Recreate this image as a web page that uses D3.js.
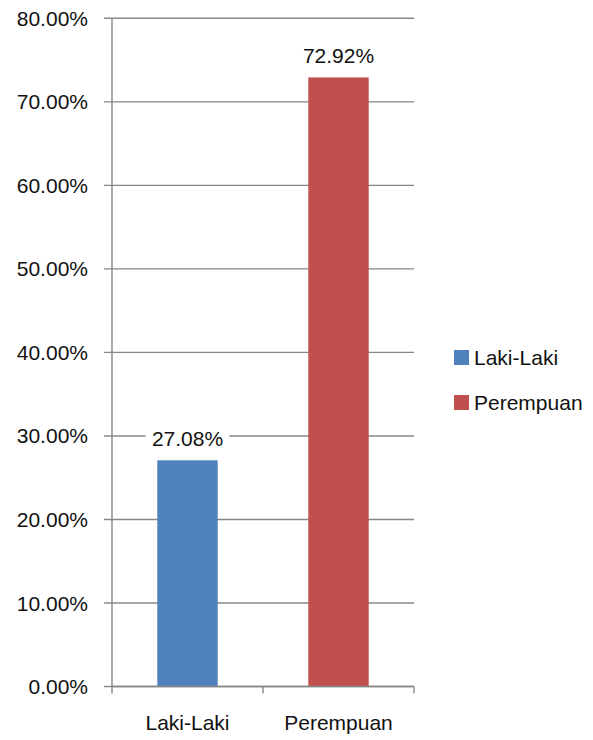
<!DOCTYPE html>
<html>
<head>
<meta charset="utf-8">
<script src="https://cdn.jsdelivr.net/npm/d3@7/dist/d3.min.js"></script>
<style>
  html, body { margin: 0; padding: 0; background: #fff; }
  svg text { font-family: "Liberation Sans", Arial, sans-serif; fill: #111; }
</style>
</head>
<body>
<svg id="chart" width="593" height="740"></svg>
<script>
// Gender share (percent)
const categories = ["Laki-Laki", "Perempuan"];
const values = [27.08, 72.92];
const colors = ["#4F81BD", "#C0504D"];
const yTicks = [0, 10, 20, 30, 40, 50, 60, 70, 80];

const svg = d3.select("#chart");
const plot = { left: 112, right: 414, top: 18.3, bottom: 686.5 };

const x = d3.scaleBand().domain(categories)
  .range([plot.left, plot.right]).paddingInner(0.6).paddingOuter(0.3);
const y = d3.scaleLinear().domain([0, 80]).range([plot.bottom, plot.top]);

const gridColor = "#878787";

// Horizontal gridlines with short ticks left of the axis
svg.append("g").selectAll("line").data(yTicks).join("line")
  .attr("x1", plot.left - 8).attr("x2", plot.right)
  .attr("y1", d => y(d)).attr("y2", d => y(d))
  .attr("stroke", gridColor).attr("stroke-width", 1.4);

// Y tick labels
svg.append("g").selectAll("text").data(yTicks).join("text")
  .attr("x", 88).attr("y", d => y(d))
  .attr("dy", "0.36em").attr("text-anchor", "end")
  .attr("font-size", 21)
  .text(d => d3.format(".2f")(d) + "%");

// Bars
svg.append("g").selectAll("rect").data(values).join("rect")
  .attr("x", (d, i) => x(categories[i]))
  .attr("width", x.bandwidth())
  .attr("y", d => y(d))
  .attr("height", d => y(0) - y(d))
  .attr("fill", (d, i) => colors[i]);

// Y axis line
svg.append("line")
  .attr("x1", plot.left).attr("x2", plot.left)
  .attr("y1", plot.top).attr("y2", plot.bottom)
  .attr("stroke", gridColor).attr("stroke-width", 1.4);

// X axis line and category separators
const step = (plot.right - plot.left) / categories.length;
svg.append("line")
  .attr("x1", plot.left).attr("x2", plot.right)
  .attr("y1", plot.bottom).attr("y2", plot.bottom)
  .attr("stroke", gridColor).attr("stroke-width", 1.4);
svg.append("g").selectAll("line").data(d3.range(categories.length + 1)).join("line")
  .attr("x1", i => plot.left + i * step).attr("x2", i => plot.left + i * step)
  .attr("y1", plot.bottom).attr("y2", plot.bottom + 7)
  .attr("stroke", gridColor).attr("stroke-width", 1.4);

// Category labels
svg.append("g").selectAll("text").data(categories).join("text")
  .attr("x", d => x(d) + x.bandwidth() / 2)
  .attr("y", 722).attr("dy", "0.36em")
  .attr("text-anchor", "middle").attr("font-size", 21)
  .text(d => d);

// Value labels with white backing
const labels = svg.append("g").selectAll("g").data(values).join("g")
  .attr("transform", (d, i) => `translate(${x(categories[i]) + x.bandwidth() / 2},${y(d) - 14})`);
labels.append("rect")
  .attr("x", -42).attr("y", -19).attr("width", 84).attr("height", 24)
  .attr("fill", "#fff");
labels.append("text")
  .attr("text-anchor", "middle").attr("font-size", 21)
  .text(d => d3.format(".2f")(d) + "%");

// Legend
const legend = svg.append("g").selectAll("g").data(categories).join("g")
  .attr("transform", (d, i) => `translate(454,${350 + i * 45})`);
legend.append("rect")
  .attr("width", 15).attr("height", 15)
  .attr("fill", (d, i) => colors[i]);
legend.append("text")
  .attr("x", 20).attr("y", 7.5).attr("dy", "0.36em")
  .attr("font-size", 21)
  .text(d => d);
</script>
</body>
</html>
